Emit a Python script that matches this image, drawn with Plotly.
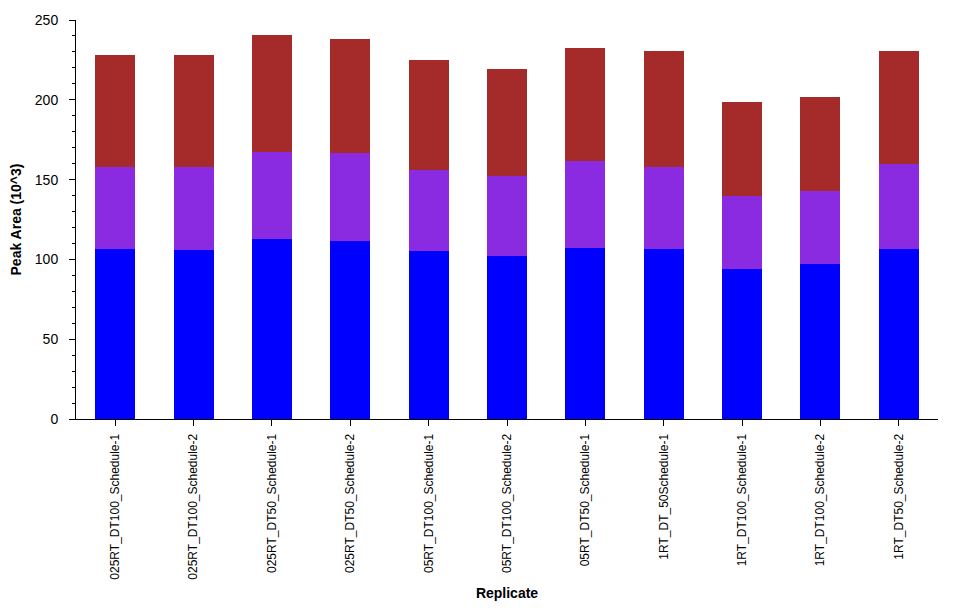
import plotly.graph_objects as go

replicates = [
    "025RT_DT100_Schedule-1", "025RT_DT100_Schedule-2", "025RT_DT50_Schedule-1",
    "025RT_DT50_Schedule-2", "05RT_DT100_Schedule-1", "05RT_DT100_Schedule-2",
    "05RT_DT50_Schedule-1", "1RT_DT_50Schedule-1", "1RT_DT100_Schedule-1",
    "1RT_DT100_Schedule-2", "1RT_DT50_Schedule-2",
]
# cumulative tops (10^3)
blue_top = [106.5, 105.9, 112.8, 111.5, 105.3, 102.1, 107.1, 106.5, 94.0, 97.1, 106.5]
purple_top = [157.9, 158.0, 167.3, 166.7, 156.0, 152.3, 161.7, 157.6, 139.9, 142.9, 160.0]
total_top = [228.0, 228.0, 240.6, 238.1, 224.9, 219.3, 232.5, 230.3, 198.6, 201.8, 230.3]

series1 = blue_top
series2 = [p - b for p, b in zip(purple_top, blue_top)]
series3 = [t - p for t, p in zip(total_top, purple_top)]

fig = go.Figure()
for vals, col in [(series1, "#0000FF"), (series2, "#8A2BE2"), (series3, "#A52A2A")]:
    fig.add_trace(go.Bar(x=replicates, y=vals, marker=dict(color=col, line=dict(width=0)),
                         showlegend=False))

font_family = "Liberation Sans, Arial, sans-serif"
fig.update_layout(
    barmode="stack",
    bargap=0.49,
    width=956, height=616,
    margin=dict(l=68, r=26, t=12, b=205, autoexpand=False),
    plot_bgcolor="white", paper_bgcolor="white",
    font=dict(family=font_family, size=12, color="black"),
    xaxis=dict(
        showline=True, linecolor="black", linewidth=1,
        ticks="outside", ticklen=6, tickcolor="black",
        tickangle=-90, tickfont=dict(size=12),
        ticklabelstandoff=3,
        showgrid=False, automargin=False,
        title=dict(text="<b>Replicate</b>", font=dict(size=14), standoff=9),
    ),
    yaxis=dict(
        range=[0, 250], tick0=0, dtick=50,
        showline=True, linecolor="black", linewidth=1,
        ticks="outside", ticklen=6, tickcolor="black",
        minor=dict(dtick=10, ticks="outside", ticklen=3, tickcolor="black", showgrid=False),
        showgrid=False, zeroline=False, automargin=False,
        tickfont=dict(size=14),
        ticklabelstandoff=8,
        title=dict(text="<b>Peak Area (10^3)</b>", font=dict(size=14), standoff=14),
    ),
)

fig.write_html("out.html")
